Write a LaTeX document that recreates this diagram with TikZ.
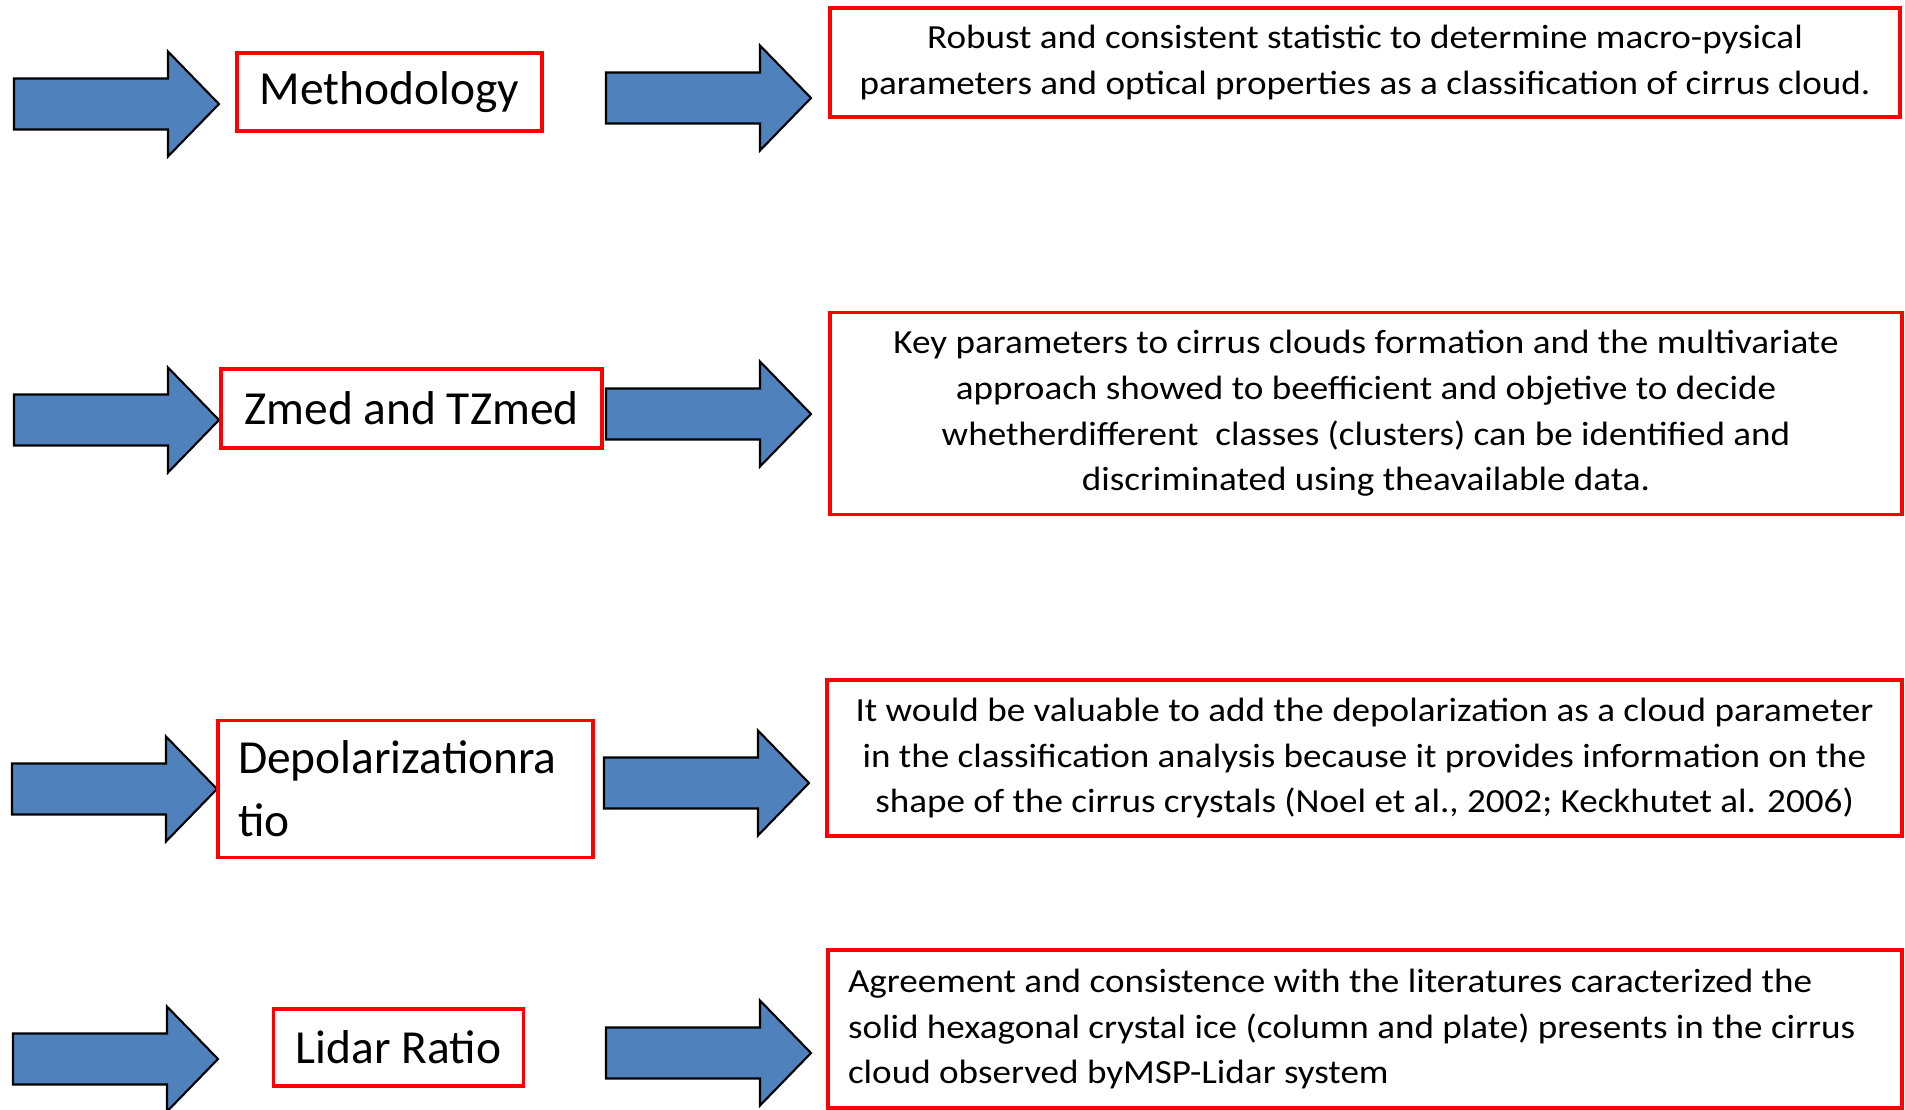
\documentclass[tikz,border=0pt]{standalone}
\usepackage{fontspec}
\setmainfont{Carlito}
\newfontfamily\notefont[FakeStretch=1.1]{Carlito}
\definecolor{arrowblue}{HTML}{4F81BD}
\tikzset{
  blockarrow/.style={draw=black, line width=0.6pt, fill=arrowblue},
  keybox/.style={draw=red, line width=0.9pt, inner sep=0pt, font=\fontsize{13.5}{18}\selectfont},
  notebox/.style={draw=red, line width=0.9pt, inner sep=0pt, align=center, font=\notefont\fontsize{9.6}{13}\selectfont},
}
\begin{document}
\begin{tikzpicture}[x=0.1mm, y=-0.1mm]
  \useasboundingbox (0,0) rectangle (1905,1109);

  \foreach \tx/\ty in {219/104, 219/420, 217/789, 218/1059, 811/98, 811/414, 809/783, 811/1053}
    \filldraw[blockarrow] (\tx-205, \ty-25.5) -- ++(154,0) -- ++(0,-27) -- (\tx,\ty)
      -- (\tx-51, \ty+52.5) -- ++(0,-27) -- (\tx-205, \ty+25.5) -- cycle;

  \node[keybox, minimum width=30.5mm, minimum height=7.8mm] (method) at (389.5,92) {Methodology};
  \node[keybox, minimum width=38.1mm, minimum height=7.9mm] (zmed) at (411.5,408.5) {Zmed and TZmed};
  \node[keybox, minimum width=37.5mm, minimum height=13.7mm, text width=33.5mm, align=flush left] (depol) at (405.5,789) {Depolarizationra\\tio};
  \node[keybox, minimum width=25mm, minimum height=7.7mm] (lidar) at (398.5,1047.5) {Lidar Ratio};

  \node[notebox, minimum width=107mm, minimum height=10.9mm] (note1) at (1365,62.5)
    {Robust and consistent statistic to determine macro-pysical\\parameters and optical properties as a classification of cirrus cloud.};
  \node[notebox, minimum width=107.2mm, minimum height=20.2mm] (note2) at (1366,413.5)
    {Key parameters to cirrus clouds formation and the multivariate\\approach showed to beefficient and objetive to decide\\whetherdifferent\ \ classes (clusters) can be identified and\\discriminated using theavailable data.};
  \node[notebox, minimum width=107.5mm, minimum height=15.6mm] (note3) at (1364.5,758)
    {It would be valuable to add the depolarization as a cloud parameter\\in the classification analysis because it provides information on the\\shape of the cirrus crystals (Noel et al., 2002; Keckhutet al. 2006)};
  \node[notebox, minimum width=107.4mm, minimum height=15.8mm, text width=103.4mm, align=flush left] (note4) at (1365,1029)
    {Agreement and consistence with the literatures caracterized the\\solid hexagonal crystal ice (column and plate) presents in the cirrus\\cloud observed byMSP-Lidar system};
\end{tikzpicture}
\end{document}
